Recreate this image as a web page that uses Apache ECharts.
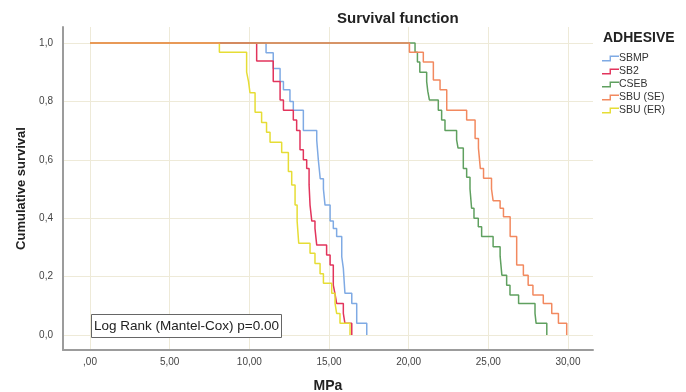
<!DOCTYPE html>
<html>
<head>
<meta charset="utf-8">
<script src="https://cdn.jsdelivr.net/npm/echarts@6/dist/echarts.min.js"></script>
<style>
  html, body { margin: 0; padding: 0; background: #fff; }
  #chart { width: 686px; height: 392px; }
</style>
</head>
<body>
<div id="chart"></div>
<script>
// Kaplan-Meier steps: [MPa, cumulative survival after the drop]
const groups = ['SBMP', 'SB2', 'CSEB', 'SBU (SE)', 'SBU (ER)']
const colors = ['#7faae4', '#e2345c', '#5fa05f', '#f2895f', '#e6dd35']

const sbmp = [[0,1],[11.05,0.967],[11.5,0.913],[11.93,0.868],[12.14,0.84],[12.55,0.8],[12.76,0.77],[13.39,0.7],[14.23,0.667],[14.33,0.6],[14.45,0.535],[14.65,0.5],[14.75,0.445],[15.07,0.39],[15.27,0.365],[15.48,0.337],[15.8,0.268],[15.9,0.228],[16.0,0.143],[16.43,0.108],[16.74,0.04],[17.37,0]]
const sb2 = [[0,1],[10.46,0.938],[11.5,0.868],[11.93,0.805],[12.14,0.77],[12.76,0.736],[12.97,0.7],[13.18,0.634],[13.39,0.6],[13.6,0.57],[13.75,0.514],[13.81,0.445],[13.92,0.39],[14.12,0.365],[14.23,0.308],[14.85,0.274],[15.07,0.24],[15.27,0.171],[15.38,0.14],[15.48,0.108],[15.9,0.074],[16.0,0.04],[16.43,0]]
const cseb = [[0,1],[20.4,0.968],[20.55,0.935],[20.7,0.9],[21.13,0.868],[21.2,0.835],[21.3,0.805],[21.86,0.77],[22.07,0.736],[22.28,0.7],[23.01,0.668],[23.1,0.64],[23.43,0.57],[23.64,0.54],[23.85,0.5],[23.95,0.434],[24.1,0.4],[24.37,0.371],[24.58,0.337],[25.3,0.302],[25.74,0.27],[25.85,0.205],[26.15,0.17],[26.36,0.137],[26.9,0.108],[27.93,0.074],[28.0,0.04],[28.67,0]]
const sbuSE = [[0,1],[20.05,0.968],[20.92,0.935],[21.55,0.873],[21.97,0.84],[22.39,0.77],[23.64,0.736],[24.17,0.673],[24.38,0.64],[24.5,0.57],[24.7,0.537],[25.2,0.5],[25.3,0.46],[25.74,0.434],[25.95,0.405],[26.37,0.337],[26.78,0.24],[27.2,0.205],[27.5,0.17],[27.8,0.137],[28.45,0.108],[28.98,0.074],[29.4,0.04],[29.92,0]]
const sbuER = [[0,1],[8.12,0.968],[9.83,0.9],[9.95,0.868],[10.04,0.83],[10.36,0.763],[10.77,0.728],[11.08,0.694],[11.3,0.66],[12.03,0.625],[12.45,0.56],[12.66,0.514],[12.87,0.445],[13.0,0.39],[13.1,0.314],[13.81,0.28],[14.12,0.245],[14.44,0.21],[14.65,0.177],[15.17,0.143],[15.38,0.108],[15.48,0.074],[15.69,0.04],[16.32,0]]

const xTicks = [0, 5, 10, 15, 20, 25, 30]
const yTicks = [0, 0.2, 0.4, 0.6, 0.8, 1]

const font = '"Liberation Sans", Arial, sans-serif'
const chart = echarts.init(document.getElementById('chart'), null, { renderer: 'canvas' })
const allData = [sbmp, sb2, cseb, sbuSE, sbuER]
// orange drawn on top so the shared 1,0 line looks like the reference
const zOrder = [2, 2, 2, 4, 3]

chart.setOption({
  backgroundColor: '#fff',
  animation: false,
  textStyle: { fontFamily: font },
  title: {
    text: 'Survival function',
    left: 332, top: 6,
    textStyle: { fontSize: 15, fontWeight: 'bold', color: '#222', fontFamily: font }
  },
  legend: {
    orient: 'vertical',
    left: 597, top: 48,
    itemWidth: 17, itemHeight: 6, itemGap: 2,
    symbolKeepAspect: false,
    icon: 'path://M0,8 L8,8 L8,0 L18,0 L18,2.5 L9.5,2.5 L9.5,10.5 L0,10.5 Z',
    itemStyle: { borderWidth: 0 },
    textStyle: { fontSize: 10.5, color: '#333', padding: [0, 0, 0, -5] },
    data: groups
  },
  grid: { left: 63, right: 93, top: 27, bottom: 42, outerBoundsMode: 'none' },
  xAxis: {
    type: 'value',
    min: -1.695, max: 31.57,
    name: 'MPa', nameLocation: 'middle', nameGap: 29,
    nameTextStyle: { fontSize: 14, fontWeight: 'bold', color: '#222' },
    axisLine: { show: true, onZero: false, lineStyle: { color: '#9c9c9c', width: 2 } },
    axisTick: { show: false, customValues: xTicks },
    axisLabel: {
      customValues: xTicks, color: '#444', fontSize: 10, margin: 7,
      formatter: v => v === 0 ? ',00' : v.toFixed(2).replace('.', ',')
    },
    splitLine: { show: true, lineStyle: { color: '#eeead8', width: 1 } }
  },
  yAxis: {
    type: 'value',
    min: -0.0514, max: 1.0548,
    name: 'Cumulative survival', nameLocation: 'middle', nameGap: 33,
    nameTextStyle: { fontSize: 13, fontWeight: 'bold', color: '#222' },
    axisLine: { show: true, onZero: false, lineStyle: { color: '#9c9c9c', width: 2 } },
    axisTick: { show: false, customValues: yTicks },
    axisLabel: {
      customValues: yTicks, color: '#444', fontSize: 10, margin: 10,
      formatter: v => v.toFixed(1).replace('.', ',')
    },
    splitLine: { show: true, lineStyle: { color: '#eeead8', width: 1 } }
  },
  graphic: [
    {
      type: 'text', x: 603, y: 31, z: 10,
      style: { text: 'ADHESIVE', font: 'bold 14px ' + font, fill: '#222' }
    },
    {
      type: 'rect', z: 20,
      shape: { x: 91.5, y: 314.5, width: 190, height: 23 },
      style: { fill: '#fff', stroke: '#666', lineWidth: 1 }
    },
    {
      type: 'text', x: 94, y: 326.5, z: 21,
      style: { text: 'Log Rank (Mantel-Cox) p=0.00', font: '13.5px ' + font, fill: '#222', verticalAlign: 'middle' }
    }
  ],
  series: groups.map((g, i) => ({
    name: g,
    type: 'line',
    step: 'end',
    symbol: 'none',
    z: zOrder[i],
    data: allData[i],
    color: colors[i],
    lineStyle: { width: 1.5, color: colors[i] }
  }))
})
</script>
</body>
</html>
